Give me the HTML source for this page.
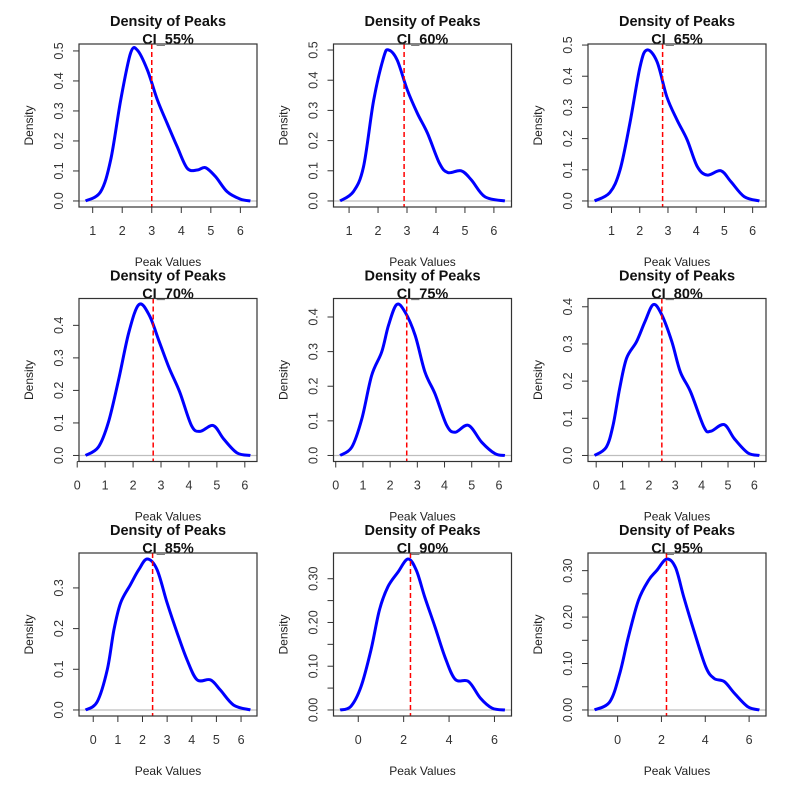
<!DOCTYPE html>
<html><head><meta charset="utf-8"><style>
html,body{margin:0;padding:0;background:#fff;}
svg{display:block;font-family:"Liberation Sans",sans-serif;}
</style></head><body>
<svg id="chart" width="785" height="805" viewBox="0 0 785 805"></svg>
<script>
const panelLabels = ["CI_55%","CI_60%","CI_65%","CI_70%","CI_75%","CI_80%","CI_85%","CI_90%","CI_95%"];
const curveX = [
 [0.76,1.27,1.61,1.95,2.28,2.51,2.85,3.19,3.52,3.86,4.2,4.54,4.82,5.16,5.55,6.0,6.34],
 [0.69,1.15,1.5,1.85,2.2,2.37,2.66,3.01,3.36,3.71,4.12,4.41,4.87,5.22,5.69,6.38],
 [0.4,0.94,1.3,1.65,2.01,2.25,2.61,2.96,3.32,3.68,4.04,4.39,4.87,5.23,5.7,6.24],
 [0.3,0.76,1.12,1.49,1.85,2.21,2.58,2.94,3.3,3.67,4.09,4.4,4.87,5.24,5.72,6.2],
 [0.16,0.59,0.96,1.32,1.69,1.94,2.24,2.55,2.92,3.28,3.65,4.08,4.39,4.88,5.37,5.86,6.22],
 [-0.06,0.38,0.64,0.89,1.15,1.53,1.85,2.17,2.49,2.87,3.19,3.58,4.09,4.34,4.85,5.24,5.75,6.19],
 [-0.31,0.16,0.57,0.84,1.11,1.51,1.85,2.19,2.59,3.0,3.41,3.81,4.22,4.76,5.16,5.7,6.38],
 [-0.8,-0.33,0.12,0.56,0.93,1.3,1.75,2.19,2.56,2.93,3.38,3.82,4.27,4.86,5.38,5.9,6.46],
 [-1.05,-0.35,0.1,0.49,0.95,1.41,1.78,2.24,2.64,3.02,3.48,4.02,4.4,4.87,5.33,5.94,6.47]
];
const curveY = [
 [0,0.031,0.137,0.337,0.492,0.503,0.437,0.337,0.259,0.181,0.109,0.103,0.111,0.081,0.031,0.006,0],
 [0,0.031,0.114,0.334,0.478,0.50,0.467,0.368,0.29,0.224,0.125,0.094,0.10,0.07,0.014,0],
 [0,0.027,0.099,0.249,0.43,0.484,0.447,0.334,0.26,0.196,0.11,0.083,0.097,0.062,0.014,0],
 [0,0.026,0.103,0.236,0.379,0.464,0.431,0.349,0.267,0.195,0.092,0.074,0.092,0.051,0.008,0],
 [0,0.024,0.106,0.231,0.299,0.376,0.436,0.414,0.347,0.241,0.178,0.087,0.067,0.087,0.038,0.005,0],
 [0,0.022,0.081,0.18,0.261,0.306,0.36,0.406,0.378,0.306,0.225,0.171,0.076,0.065,0.083,0.045,0.007,0],
 [0,0.02,0.099,0.197,0.263,0.308,0.345,0.371,0.345,0.263,0.189,0.123,0.074,0.074,0.049,0.012,0],
 [0,0.008,0.053,0.137,0.228,0.281,0.315,0.345,0.319,0.258,0.19,0.121,0.07,0.065,0.027,0.004,0],
 [0,0.018,0.079,0.157,0.236,0.279,0.30,0.325,0.307,0.243,0.171,0.093,0.068,0.061,0.036,0.007,0]
];
const cutoffs = [3.0,2.9,2.81,2.72,2.61,2.49,2.41,2.3,2.23];
const xTicks = [[1,2,3,4,5,6],[1,2,3,4,5,6],[1,2,3,4,5,6],[0,1,2,3,4,5,6],[0,1,2,3,4,5,6],[0,1,2,3,4,5,6],[0,1,2,3,4,5,6],[0,2,4,6],[0,2,4,6]];
const yTicks = [[0,0.1,0.2,0.3,0.4,0.5],[0,0.1,0.2,0.3,0.4,0.5],[0,0.1,0.2,0.3,0.4,0.5],[0,0.1,0.2,0.3,0.4],[0,0.1,0.2,0.3,0.4],[0,0.1,0.2,0.3,0.4],[0,0.1,0.2,0.3],[0,0.05,0.1,0.15,0.2,0.25,0.3],[0,0.05,0.1,0.15,0.2,0.25,0.3]];
const yTickLabels = [
 ["0.0","0.1","0.2","0.3","0.4","0.5"],["0.0","0.1","0.2","0.3","0.4","0.5"],["0.0","0.1","0.2","0.3","0.4","0.5"],
 ["0.0","0.1","0.2","0.3","0.4"],["0.0","0.1","0.2","0.3","0.4"],["0.0","0.1","0.2","0.3","0.4"],["0.0","0.1","0.2","0.3"],
 ["0.00","","0.10","","0.20","","0.30"],["0.00","","0.10","","0.20","","0.30"]];

const NS="http://www.w3.org/2000/svg";
const svg=document.getElementById('chart');
function mk(tag,attrs,parent){const e=document.createElementNS(NS,tag);for(const k in attrs)e.setAttribute(k,attrs[k]);(parent||svg).appendChild(e);return e;}

for(let i=0;i<9;i++){
  const ox=(i%3)*254.5, oy=Math.floor(i/3)*254.5;
  const L=ox+79,R=ox+257,T=oy+44,B=oy+207;
  const xs=curveX[i], ys=curveY[i];
  const xmin=Math.min(...xs),xmax=Math.max(...xs),pad=(xmax-xmin)*0.04;
  const x0=xmin-pad,x1=xmax+pad;
  const ymax=Math.max(...ys),y0=-ymax*0.04,y1=ymax*1.04;
  const sx=v=>L+(v-x0)/(x1-x0)*(R-L);
  const sy=v=>B-(v-y0)/(y1-y0)*(B-T);
  const g=mk('g',{});
  
  
  const t1=mk('text',{x:(L+R)/2,y:oy+26,'text-anchor':'middle','font-size':'14.5','font-weight':'bold',fill:'#111'},g);
  t1.textContent='Density of Peaks';
  
  
  const t2=mk('text',{x:(L+R)/2,y:oy+44,'text-anchor':'middle','font-size':'14.5','font-weight':'bold',fill:'#111'},g);
  t2.textContent=panelLabels[i];
  
  
  // zero line
  const zl=mk('line',{x1:L,x2:R,y1:sy(0),y2:sy(0),stroke:'#bebebe','stroke-width':1.3},g);
  
  
  // curve (Catmull-Rom)
  const P=xs.map((x,k)=>[sx(x),sy(ys[k])]);
  let d='M'+P[0][0].toFixed(2)+','+P[0][1].toFixed(2);
  for(let k=0;k<P.length-1;k++){
    const p0=P[k-1]||P[k],p1=P[k],p2=P[k+1],p3=P[k+2]||P[k+1];
    const c1=[p1[0]+(p2[0]-p0[0])/6,p1[1]+(p2[1]-p0[1])/6];
    const c2=[p2[0]-(p3[0]-p1[0])/6,p2[1]-(p3[1]-p1[1])/6];
    d+=' C'+c1.map(v=>v.toFixed(2)).join(',')+' '+c2.map(v=>v.toFixed(2)).join(',')+' '+p2.map(v=>v.toFixed(2)).join(',');
  }
  const cv=mk('path',{d:d,fill:'none',stroke:'#0000ff','stroke-width':3,'stroke-linejoin':'round'},g);
  
  
  const rl=mk('line',{x1:sx(cutoffs[i]),x2:sx(cutoffs[i]),y1:T,y2:B,stroke:'#ff0000','stroke-width':1.5,'stroke-dasharray':'5,3'},g);
  
  
  const bx=mk('rect',{x:L,y:T,width:R-L,height:B-T,fill:'none',stroke:'#333','stroke-width':1.2},g);
  
  
  // x axis
  const xt=xTicks[i];
  const xa=mk('line',{x1:sx(xt[0]),x2:sx(xt[xt.length-1]),y1:B,y2:B,stroke:'#333','stroke-width':1},g);
  
  
  xt.forEach(v=>{
    mk('line',{x1:sx(v),x2:sx(v),y1:B,y2:B+6,stroke:'#333','stroke-width':1},g);
    const tl=mk('text',{x:sx(v),y:B+28,'text-anchor':'middle','font-size':'12.5',fill:'#333'},g);
    tl.textContent=String(v);
    
    
  });
  // y axis
  const yt=yTicks[i];
  yt.forEach((v,k)=>{
    mk('line',{x1:L-6,x2:L,y1:sy(v),y2:sy(v),stroke:'#333','stroke-width':1},g);
    if(yTickLabels[i][k]){
      const tl=mk('text',{x:0,y:0,transform:'translate('+(ox+63)+','+sy(v)+') rotate(-90)','text-anchor':'middle','font-size':'12.5',fill:'#333'},g);
      tl.textContent=yTickLabels[i][k];
      
      
    }
  });
  const xl=mk('text',{x:(L+R)/2,y:oy+266,'text-anchor':'middle','font-size':'12',fill:'#222'},g);
  xl.textContent='Peak Values';
  
  
  const yl=mk('text',{x:0,y:0,transform:'translate('+(ox+33)+','+((T+B)/2)+') rotate(-90)','text-anchor':'middle','font-size':'12',fill:'#222'},g);
  yl.textContent='Density';
  
  
}
</script>
</body></html>
